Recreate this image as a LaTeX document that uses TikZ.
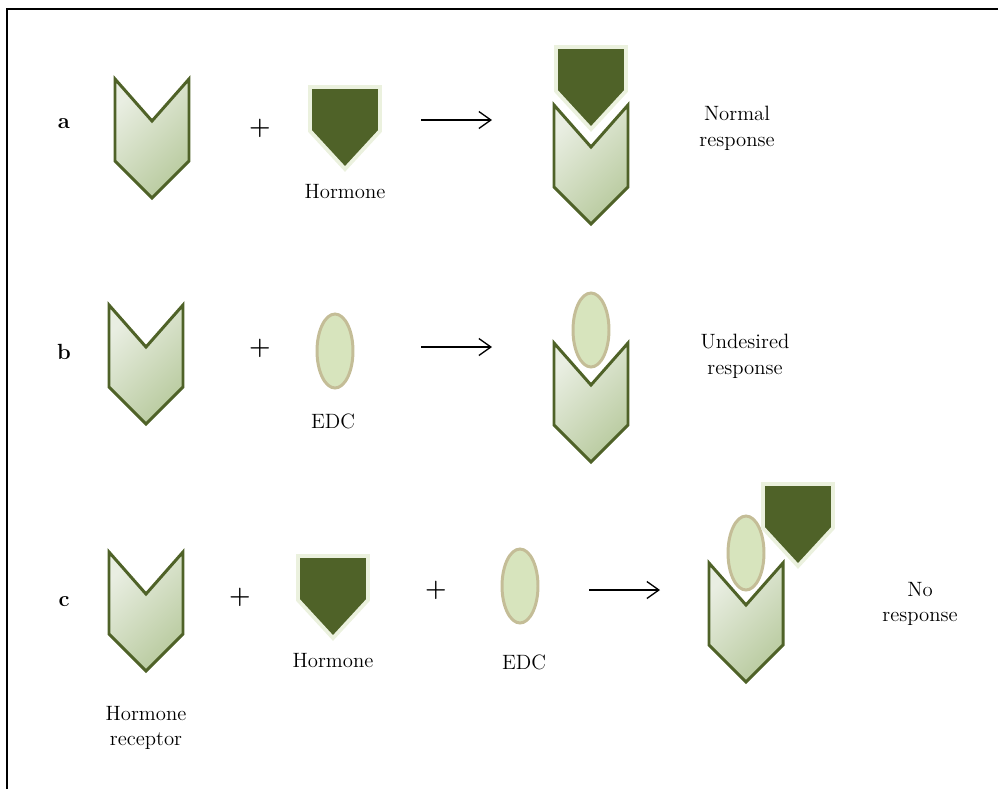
\documentclass[tikz,border=0pt]{standalone}
\usepackage{xcolor}
\usetikzlibrary{arrows.meta,shapes.geometric}

\definecolor{olive}{HTML}{4F6228}
\definecolor{paleolive}{HTML}{EBF1DE}
\definecolor{reclight}{HTML}{E9EEE2}
\definecolor{recdark}{HTML}{B8CA9E}
\definecolor{edcfill}{HTML}{D7E4BD}
\definecolor{edcline}{HTML}{C4BD97}

\tikzset{
  receptor/.pic={
    \path[draw=olive,line width=1.7pt,top color=reclight,bottom color=recdark,shading angle=45]
      (-37,0) -- (0,42) -- (37,0) -- (37,82) -- (0,119) -- (-37,82) -- cycle;
  },
  hormone/.pic={
    \path[draw=paleolive,fill=olive,line width=2.2pt,line join=miter]
      (-35,0) -- (35,0) -- (35,44) -- (0,82) -- (-35,44) -- cycle;
  },
  edc/.style={ellipse,draw=edcline,fill=edcfill,line width=1.7pt,
    minimum width=0.72cm,minimum height=1.48cm,inner sep=0pt},
  lbl/.style={font=\fontsize{11.8}{14.7}\selectfont,align=center,inner sep=0pt},
  rowlbl/.style={font=\fontsize{12.5}{14.7}\selectfont\bfseries,inner sep=0pt},
  plus/.style={font=\fontsize{14}{16}\selectfont\bfseries,inner sep=0pt},
  react/.style={line width=0.75pt,-{Straight Barb[length=2.4mm,width=3.4mm]}},
}

\begin{document}
\begin{tikzpicture}[x=0.02cm,y=-0.02cm]
		\useasboundingbox (0,0) rectangle (998,789);
		\draw[line width=1.6pt] (7,789) -- (7,9) -- (998,9);
		%
		% row a
		\node[rowlbl] (la) at (64,124) {a};
		\pic (recA) at (152,79) {receptor};
		\node[plus] (plA) at (260,128) {+};
		\pic (hormA) at (345,87) {hormone};
		\node[lbl] (tHormA) at (345,192) {Hormone};
		\coordinate (arrA1) at (421,120);
		\coordinate (arrA2) at (492,120);
		\draw[react] (arrA1) -- (arrA2);
		\pic (resRecA) at (591,105) {receptor};
		\pic (resHormA) at (591,47) {hormone};
		\node[lbl] (tNormal) at (737,128) {Normal\\response};
		%
		% row b
		\node[rowlbl] (lb) at (64,352) {b};
		\pic (recB) at (146,305) {receptor};
		\node[plus] (plB) at (260,348) {+};
		\node[edc] (edcB) at (335,351) {};
		\node[lbl] (tEdcB) at (333,421) {EDC};
		\coordinate (arrB1) at (421,347);
		\coordinate (arrB2) at (492,347);
		\draw[react] (arrB1) -- (arrB2);
		\pic (resRecB) at (591,343) {receptor};
		\node[edc] (resEdcB) at (591,330) {};
		\node[lbl] (tUndesired) at (745,356) {Undesired\\response};
		%
		% row c
		\node[rowlbl] (lc) at (64,602) {c};
		\pic (recC) at (146,552) {receptor};
		\node[lbl] (tReceptor) at (146,728) {Hormone\\receptor};
		\node[plus] (plC1) at (240,597) {+};
		\pic (hormC) at (333,556) {hormone};
		\node[lbl] (tHormC) at (333,661) {Hormone};
		\node[plus] (plC2) at (436,590) {+};
		\node[edc] (edcC) at (520,586) {};
		\node[lbl] (tEdcC) at (524,662) {EDC};
		\coordinate (arrC1) at (589,590);
		\coordinate (arrC2) at (660,590);
		\draw[react] (arrC1) -- (arrC2);
		\pic (resRecC) at (746,563) {receptor};
		\node[edc] (resEdcC) at (746,553) {};
		\pic (resHormC) at (798,484) {hormone};
		\node[lbl] (tNo) at (920,604) {No\\response};
	\end{tikzpicture}
\end{document}
